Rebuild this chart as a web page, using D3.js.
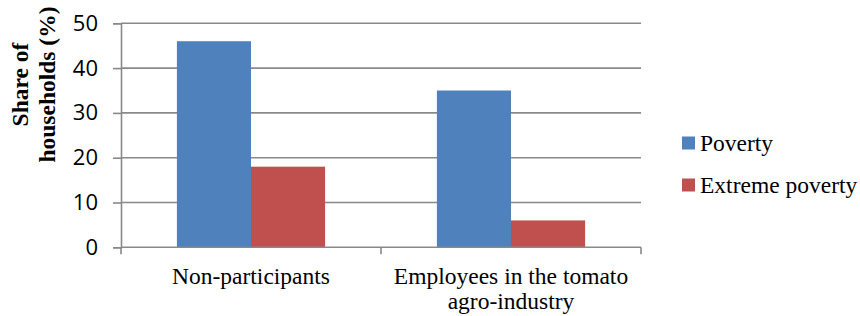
<!DOCTYPE html>
<html>
<head>
<meta charset="utf-8">
<script src="https://cdn.jsdelivr.net/npm/d3@7"></script>
<style>
  body { margin: 0; background: #fff; }
</style>
</head>
<body>
<div id="chart"></div>
<script>
// chart data
var categories = ["Non-participants", "Employees in the tomato agro-industry"];
var categoryLines = [["Non-participants"], ["Employees in the tomato", "agro-industry"]];
var seriesNames = ["Poverty", "Extreme poverty"];
var poverty = [46, 35];
var extremePoverty = [18, 6];
var yTicks = [0, 10, 20, 30, 40, 50];
var colors = ["#4F81BD", "#C0504D"];

function init() {
    var w = 860;
    var h = 316;
    var left = 121, right = 641, top = 23.3, bottom = 247.3;
    var serif = "Liberation Serif";

    var svg = d3.select("#chart")
        .append("svg")
        .attr("width", w)
        .attr("height", h);

    var xScale = d3.scaleBand()
        .domain(categories)
        .range([left, right])
        .paddingInner(0.43)
        .paddingOuter(0.215);

    var sub = d3.scaleBand()
        .domain(seriesNames)
        .range([0, xScale.bandwidth()]);

    var yScale = d3.scaleLinear()
        .domain([0, 50])
        .range([bottom, top]);

    // gridlines
    svg.append("g")
        .selectAll("line")
        .data(yTicks.filter(function (d) { return d > 0; }))
        .enter().append("line")
        .attr("x1", left)
        .attr("x2", right)
        .attr("y1", function (d) { return yScale(d); })
        .attr("y2", function (d) { return yScale(d); })
        .style("stroke", "#898989")
        .style("stroke-width", 1.6);

    // bars
    var rows = categories.map(function (c, i) {
        return { cat: c, values: [poverty[i], extremePoverty[i]] };
    });
    var groups = svg.append("g")
        .selectAll("g")
        .data(rows)
        .enter().append("g")
        .attr("transform", function (d) { return "translate(" + xScale(d.cat) + ",0)"; });

    groups.selectAll("rect")
        .data(function (d) {
            return d.values.map(function (v, j) { return { name: seriesNames[j], value: v, j: j }; });
        })
        .enter().append("rect")
        .attr("x", function (d) { return sub(d.name); })
        .attr("width", sub.bandwidth())
        .attr("y", function (d) { return yScale(d.value); })
        .attr("height", function (d) { return yScale(0) - yScale(d.value); })
        .attr("fill", function (d) { return colors[d.j]; });

    // y axis
    var yAxis = d3.axisLeft(yScale)
        .tickValues(yTicks)
        .tickSize(8)
        .tickPadding(15);
    var yg = svg.append("g")
        .attr("transform", "translate(" + left + ",0)")
        .call(yAxis);
    yg.select(".domain").attr("stroke", "#898989").attr("stroke-width", 1.6);
    yg.selectAll(".tick line").attr("stroke", "#898989").attr("stroke-width", 1.6);
    yg.selectAll(".tick text")
        .style("font-family", "'Open Sans', sans-serif")
        .style("font-size", "22px")
        .attr("fill", "#000");

    // x axis
    var xg = svg.append("g")
        .attr("transform", "translate(0," + bottom + ")");
    xg.append("line")
        .attr("x1", left).attr("x2", right)
        .attr("y1", 0).attr("y2", 0)
        .style("stroke", "#898989").style("stroke-width", 1.6);
    var edges = [left].concat(categories.map(function (c) { return xScale(c) + xScale.bandwidth() + xScale.step() * xScale.paddingInner() / 2; }));
    edges[edges.length - 1] = right;
    xg.selectAll(".xtick")
        .data(edges)
        .enter().append("line")
        .attr("x1", function (d) { return d; })
        .attr("x2", function (d) { return d; })
        .attr("y1", 0).attr("y2", 7)
        .style("stroke", "#898989").style("stroke-width", 1.6);

    xg.selectAll(".xlabel")
        .data(categories)
        .enter().append("text")
        .attr("text-anchor", "middle")
        .style("font-family", serif)
        .style("font-size", "23.5px")
        .attr("fill", "#000")
        .each(function (d, i) {
            var t = d3.select(this);
            categoryLines[i].forEach(function (line, k) {
                t.append("tspan")
                    .attr("x", xScale(d) + xScale.bandwidth() / 2)
                    .attr("y", 37 + k * 25)
                    .text(line);
            });
        });

    // y axis title
    var title = svg.append("text")
        .attr("transform", "translate(0,84.5) rotate(-90)")
        .attr("text-anchor", "middle")
        .style("font-family", serif)
        .style("font-size", "23.5px")
        .style("font-weight", "bold")
        .attr("fill", "#000");
    title.append("tspan").attr("x", 0).attr("y", 27.5).text("Share of");
    title.append("tspan").attr("x", 0).attr("y", 55).text("households (%)");

    // legend
    var legend = svg.append("g")
        .selectAll("g")
        .data(seriesNames)
        .enter().append("g")
        .attr("transform", function (d, i) { return "translate(682," + (143 + i * 42) + ")"; });
    legend.append("rect")
        .attr("x", 0).attr("y", -6.5)
        .attr("width", 13).attr("height", 13)
        .attr("fill", function (d, i) { return colors[i]; });
    legend.append("text")
        .attr("x", 18)
        .attr("y", 8)
        .style("font-family", serif)
        .style("font-size", "23.5px")
        .attr("fill", "#000")
        .text(function (d) { return d; });
}

window.onload = init;
</script>
</body>
</html>
